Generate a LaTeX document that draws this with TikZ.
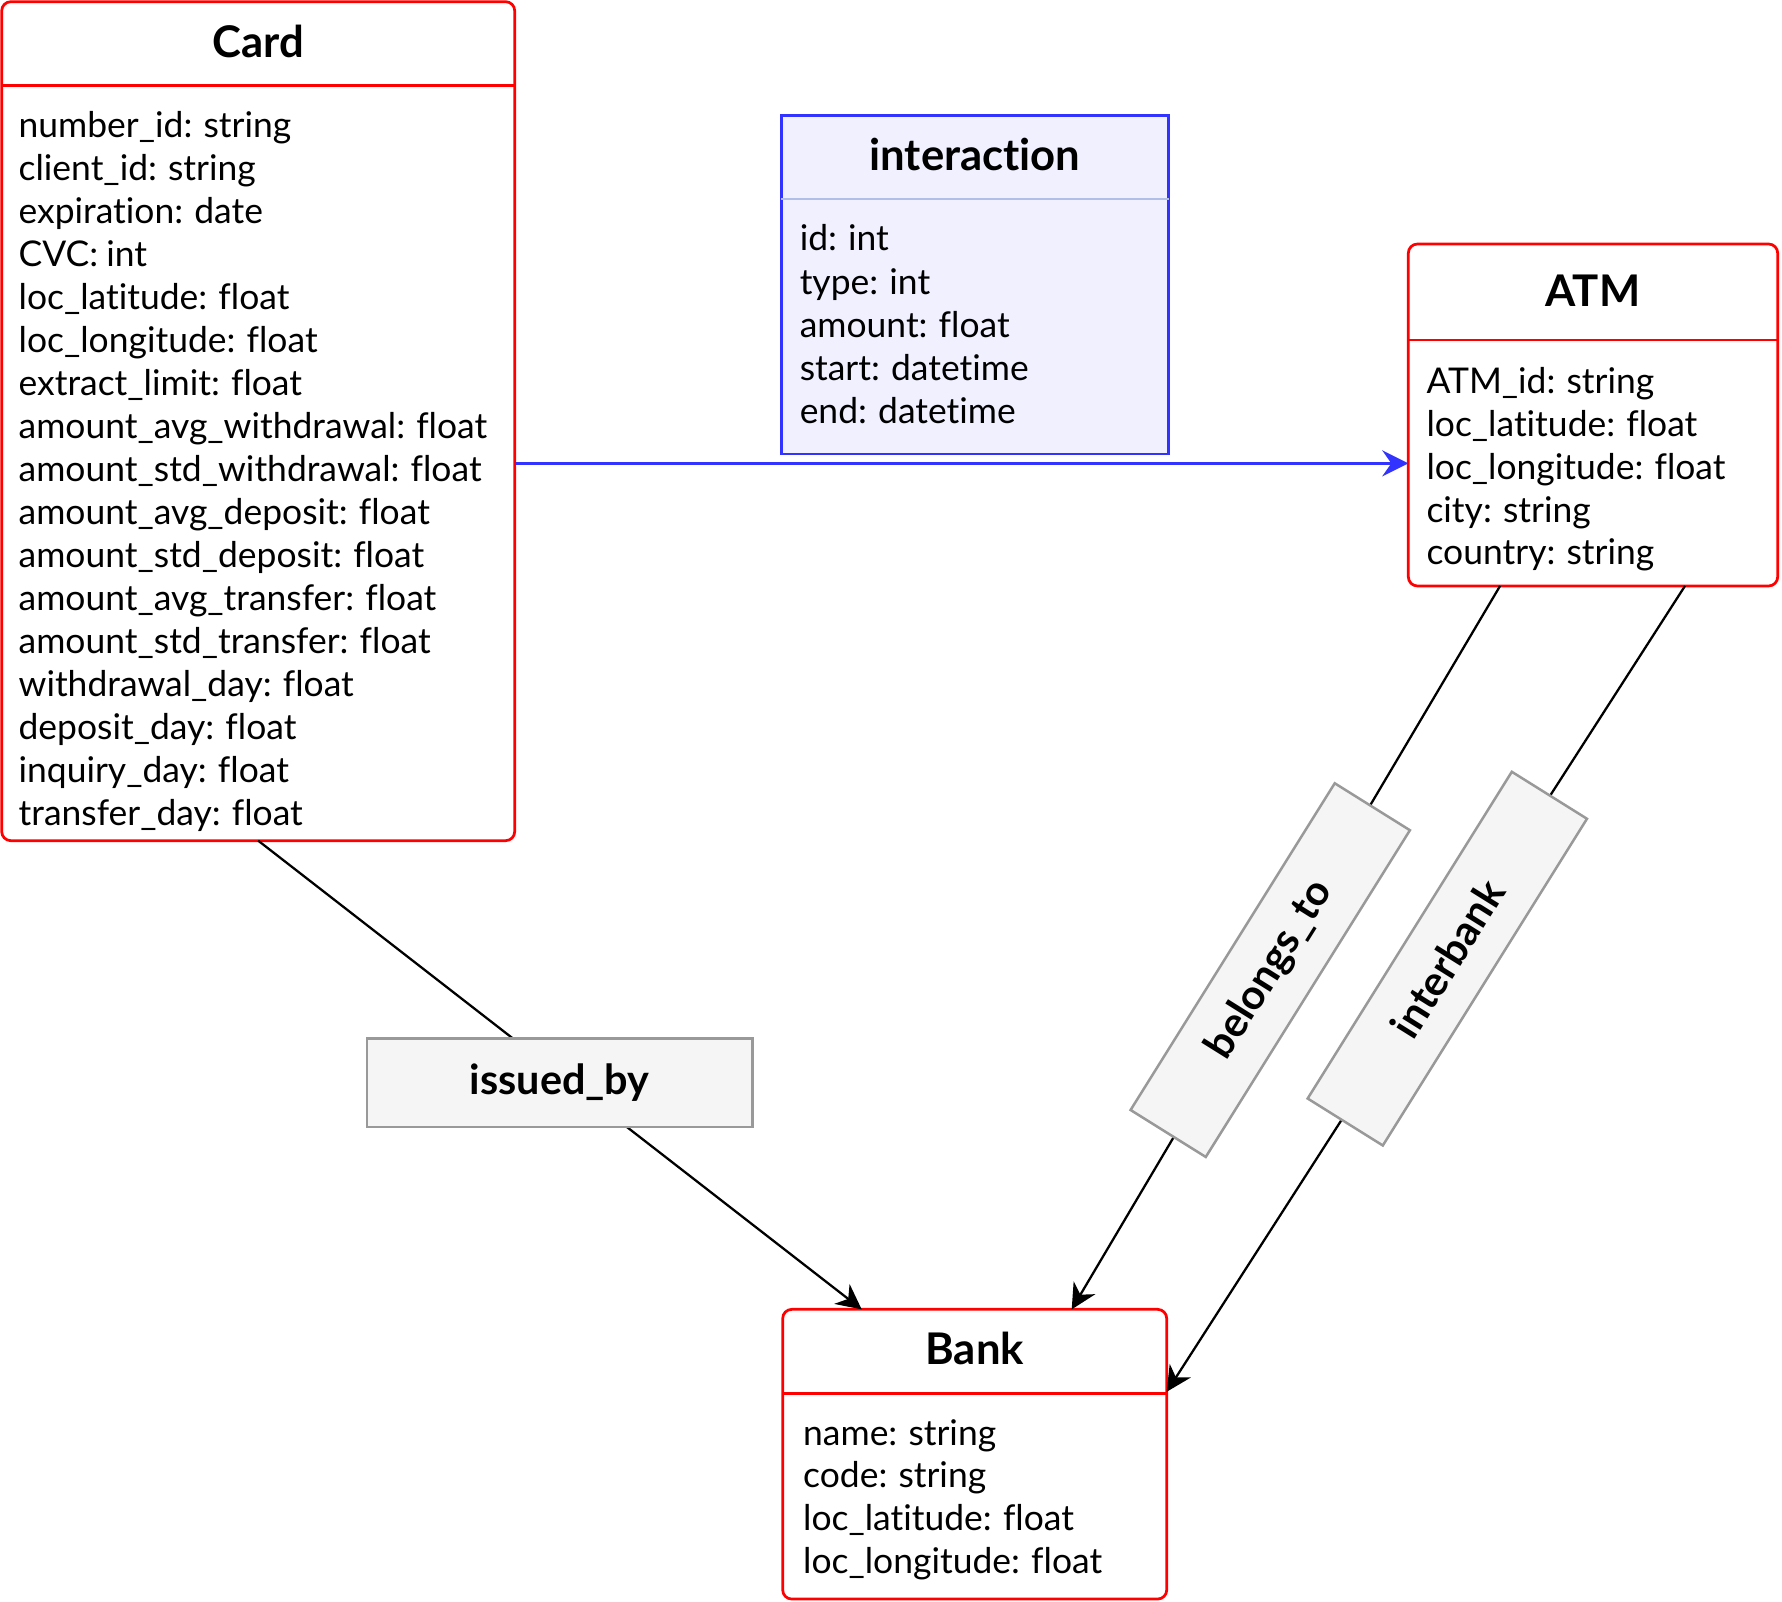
\documentclass[tikz,border=0pt]{standalone}
\usepackage{fontspec}
\setmainfont{Lato}[Ligatures=NoCommon,WordSpace=0.9]
\usetikzlibrary{arrows.meta,fit,calc}
\definecolor{ered}{HTML}{FF0000}
\definecolor{iblue}{HTML}{3333FF}
\definecolor{ifill}{HTML}{F0F0FF}
\definecolor{isep}{HTML}{B0BEE8}
\definecolor{lfill}{HTML}{F5F5F5}
\definecolor{lgray}{HTML}{999999}
\begin{document}
\begin{tikzpicture}[x=0.5pt,y=-0.5pt,
  entity/.style={draw=ered,line width=1.2pt,fill=white,rounded corners=4pt,inner sep=0pt,outer sep=0pt},
  relbox/.style={draw=iblue,line width=1.2pt,fill=ifill,inner sep=0pt,outer sep=0pt},
  hdr/.style={draw=ered,line width=1.2pt},
  body/.style={anchor=base west,inner sep=0pt,font=\fontsize{15.6pt}{18pt}\selectfont},
  ttl/.style={anchor=base,inner sep=0pt,font=\bfseries\fontsize{19.2pt}{23pt}\selectfont},
  lbl/.style={draw=lgray,fill=lfill,line width=1.1pt,inner sep=0pt,minimum width=169.5pt,minimum height=39pt,font=\bfseries\fontsize{18.2pt}{22pt}\selectfont},
  conn/.style={draw=black,line width=1pt,-{Stealth[length=11pt,width=11pt,inset=3.5pt]}},
  bluearrow/.style={draw=iblue,line width=1.2pt,-{Stealth[length=11.5pt,width=11.5pt,inset=4pt]}}]
\useasboundingbox (0,0) rectangle (1568,1409.6);

% Card
\node[entity,fit={(1.5,1.5) (452.9,739.7)}] (card) {};
\draw[hdr] (card.west |- 0,75.4) -- (card.east |- 0,75.4);
\node[ttl] (cardt) at (227.2,50.4) {Card};
\foreach \t [count=\i from 0] in {number\_id: string,client\_id: string,expiration: date,CVC: int,loc\_latitude: float,loc\_longitude: float,extract\_limit: float,amount\_avg\_withdrawal: float,amount\_std\_withdrawal: float,amount\_avg\_deposit: float,amount\_std\_deposit: float,amount\_avg\_transfer: float,amount\_std\_transfer: float,withdrawal\_day: float,deposit\_day: float,inquiry\_day: float,transfer\_day: float}
  \node[body] (card\i) at (16,121.1+37.85*\i) {\t};

% interaction
\node[relbox,fit={(687.5,101.5) (1028.3,399.5)}] (inter) {};
\draw[draw=isep,line width=0.8pt] (inter.west |- 0,175.4) -- (inter.east |- 0,175.4);
\node[ttl] (intert) at (857.9,150.2) {interaction};
\foreach \t [count=\i from 0] in {id: int,type: int,amount: float,start: datetime,end: datetime}
  \node[body] (inter\i) at (703.3,220.6+38.1*\i) {\t};

% ATM
\node[entity,fit={(1239.2,214.7) (1564.2,515.6)}] (atm) {};
\draw[hdr] (atm.west |- 0,299.2) -- (atm.east |- 0,299.2);
\node[ttl] (atmt) at (1401.7,269.3) {ATM};
\foreach \t [count=\i from 0] in {ATM\_id: string,loc\_latitude: float,loc\_longitude: float,city: string,country: string}
  \node[body] (atm\i) at (1254.8,346.1+37.75*\i) {\t};

% Bank
\node[entity,fit={(688.7,1152.1) (1026.6,1407)}] (bank) {};
\draw[hdr] (bank.west |- 0,1226) -- (bank.east |- 0,1226);
\node[ttl] (bankt) at (857.6,1200.5) {Bank};
\foreach \t [count=\i from 0] in {name: string,code: string,loc\_latitude: float,loc\_longitude: float}
  \node[body] (bank\i) at (706.3,1271.5+37.63*\i) {\t};

% connectors
\coordinate (bl) at (0,407.7);
\draw[bluearrow] (card.east |- bl) -- (atm.west |- bl);
\draw[conn] (card.south) -- ($(bank.north west)+(69.5,0)$);
\draw[conn] ($(atm.south west)+(80.7,0)$) -- ($(bank.north west)+(254.3,0)$);
\draw[conn] ($(atm.south west)+(243.4,0)$) -- ($(bank.north east)+(0,72.5)$);

% labels
\node[lbl] (issued) at (492.5,952.7) {issued\_by};
\node[lbl,rotate=58] (belongs) at (1117.7,853.6) {belongs\_to};
\node[lbl,rotate=58] (interbank) at (1273.5,843.5) {interbank};
\end{tikzpicture}
\end{document}
